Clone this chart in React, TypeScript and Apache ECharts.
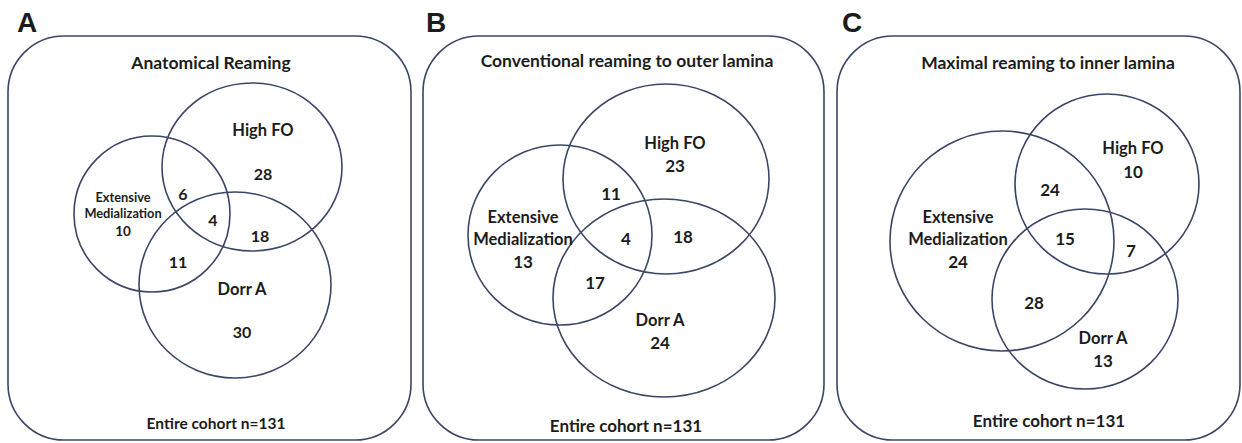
import React, { useEffect, useRef } from "react";
import * as echarts from "echarts";

// ---------- data ----------
const panelLetters = ["A", "B", "C"];
const panelTitles = [
  "Anatomical Reaming",
  "Conventional reaming to outer lamina",
  "Maximal reaming to inner lamina",
];
const setNames = ["Extensive\nMedialization", "High FO", "Dorr A"];
const cohortSize = [131, 131, 131];
// region counts per panel (A, B, C)
const extOnly = [10, 13, 24];
const highOnly = [28, 23, 10];
const dorrOnly = [30, 24, 13];
const extHigh = [6, 11, 24];
const extDorr = [11, 17, 28];
const highDorr = [18, 18, 7];
const allThree = [4, 4, 15];

// ---------- layout (pixel space of the figure) ----------
type P = [number, number];
interface PanelLayout {
  frame: [number, number, number, number, number];
  letter: P;
  title: P;
  ext: [number, number, number, number];
  high: [number, number, number, number];
  dorr: [number, number, number, number];
  extName: P; extNum: P;
  highName: P; highNum: P;
  dorrName: P; dorrNum: P;
  eh: P; ed: P; hd: P; all: P;
  cohort: P;
  nameSize: number; extSize: number; extNumSize: number; numSize: number; titleSize: number; cohortSize: number;
}
const layouts: PanelLayout[] = [
  {
    frame: [8, 36, 403, 404, 56],
    letter: [27, 22], title: [211, 62],
    ext: [152, 214, 78, 78], high: [252, 167, 90, 84], dorr: [235, 285, 96, 93],
    extName: [123, 205], extNum: [123, 231],
    highName: [263, 130], highNum: [263, 173],
    dorrName: [242, 289], dorrNum: [242, 331],
    eh: [183, 193], all: [213, 219], hd: [260, 235], ed: [178, 261],
    cohort: [216, 423],
    nameSize: 16.5, extSize: 12.8, extNumSize: 13.5, numSize: 16, titleSize: 17.5, cohortSize: 15.5,
  },
  {
    frame: [423, 36, 401, 404, 56],
    letter: [436, 22], title: [627, 60],
    ext: [560, 235, 92, 90], high: [666, 179, 103, 95], dorr: [664, 298, 111, 99],
    extName: [523, 228], extNum: [523, 261],
    highName: [675, 143], highNum: [675, 165],
    dorrName: [660, 320], dorrNum: [660, 342],
    eh: [611, 193], all: [626, 238], hd: [683, 236], ed: [595, 282],
    cohort: [626, 425],
    nameSize: 16.5, extSize: 16.5, extNumSize: 17, numSize: 17, titleSize: 17.5, cohortSize: 17,
  },
  {
    frame: [837, 36, 403, 404, 56],
    letter: [852, 22], title: [1048, 62],
    ext: [1002, 241, 112, 110], high: [1107, 184, 92, 90], dorr: [1085, 299, 93, 90],
    extName: [958, 228], extNum: [958, 261],
    highName: [1133, 148], highNum: [1133, 171],
    dorrName: [1103, 338], dorrNum: [1103, 360],
    eh: [1050, 189], all: [1065, 238], hd: [1131, 250], ed: [1034, 302],
    cohort: [1049, 420],
    nameSize: 16.5, extSize: 16.5, extNumSize: 17, numSize: 17, titleSize: 17.5, cohortSize: 17,
  },
];

const W = 1242;
const H = 443;
const STROKE = "#3b4566";
const INK = "#1c1c1c";
const FONT = "Lato, 'Open Sans', sans-serif";

interface TextItem { text: string; x: number; y: number; size: number; family: string; lh?: number; }

export default function App() {
  const ref = useRef<HTMLDivElement>(null);
  useEffect(() => {
    if (!ref.current) return;
    const chart = echarts.init(ref.current, undefined, { renderer: "svg" });

    const frames: number[][] = [];
    const circles: number[][] = [];
    const texts: TextItem[] = [];
    layouts.forEach((L, i) => {
      frames.push(L.frame);
      circles.push(L.ext, L.high, L.dorr);
      texts.push({ text: panelLetters[i], x: L.letter[0], y: L.letter[1], size: 28, family: "'Liberation Sans', Arial, sans-serif" });
      texts.push({ text: panelTitles[i], x: L.title[0], y: L.title[1], size: L.titleSize, family: FONT });
      texts.push({ text: setNames[0], x: L.extName[0], y: L.extName[1], size: L.extSize, family: FONT, lh: L.extSize * 1.3 });
      texts.push({ text: String(extOnly[i]), x: L.extNum[0], y: L.extNum[1], size: L.extNumSize, family: FONT });
      texts.push({ text: setNames[1], x: L.highName[0], y: L.highName[1], size: L.nameSize, family: FONT });
      texts.push({ text: String(highOnly[i]), x: L.highNum[0], y: L.highNum[1], size: L.numSize, family: FONT });
      texts.push({ text: setNames[2], x: L.dorrName[0], y: L.dorrName[1], size: L.nameSize, family: FONT });
      texts.push({ text: String(dorrOnly[i]), x: L.dorrNum[0], y: L.dorrNum[1], size: L.numSize, family: FONT });
      texts.push({ text: String(extHigh[i]), x: L.eh[0], y: L.eh[1], size: L.numSize, family: FONT });
      texts.push({ text: String(extDorr[i]), x: L.ed[0], y: L.ed[1], size: L.numSize, family: FONT });
      texts.push({ text: String(highDorr[i]), x: L.hd[0], y: L.hd[1], size: L.numSize, family: FONT });
      texts.push({ text: String(allThree[i]), x: L.all[0], y: L.all[1], size: L.numSize, family: FONT });
      texts.push({ text: "Entire cohort n=" + cohortSize[i], x: L.cohort[0], y: L.cohort[1], size: L.cohortSize, family: FONT });
    });

    chart.setOption({
      animation: false,
      backgroundColor: "#ffffff",
      grid: { left: 0, right: 0, top: 0, bottom: 0 },
      xAxis: { type: "value", min: 0, max: W, show: false },
      yAxis: { type: "value", min: 0, max: H, inverse: true, show: false },
      series: [
        {
          type: "custom",
          coordinateSystem: "cartesian2d",
          clip: false,
          data: frames,
          renderItem: (_p: any, api: any) => {
            const c = api.coord([api.value(0), api.value(1)]);
            const s = api.size([api.value(2), api.value(3)]);
            return {
              type: "rect",
              shape: { x: c[0], y: c[1], width: s[0], height: s[1], r: api.value(4) },
              style: { fill: "none", stroke: STROKE, lineWidth: 1.6 },
            };
          },
        },
        {
          type: "custom",
          coordinateSystem: "cartesian2d",
          clip: false,
          data: circles,
          renderItem: (_p: any, api: any) => {
            const c = api.coord([api.value(0), api.value(1)]);
            const s = api.size([api.value(2), api.value(3)]);
            return {
              type: "ellipse",
              shape: { cx: c[0], cy: c[1], rx: s[0], ry: s[1] },
              style: { fill: "none", stroke: STROKE, lineWidth: 1.6 },
            };
          },
        },
        {
          type: "custom",
          coordinateSystem: "cartesian2d",
          clip: false,
          data: texts.map((t, i) => [t.x, t.y, i]),
          renderItem: (_p: any, api: any) => {
            const t = texts[api.value(2)];
            const c = api.coord([api.value(0), api.value(1)]);
            return {
              type: "text",
              x: c[0],
              y: c[1],
              style: {
                text: t.text,
                fill: INK,
                fontSize: t.size,
                fontWeight: "bold",
                fontFamily: t.family,
                align: "center",
                verticalAlign: "middle",
                lineHeight: t.lh ?? t.size * 1.2,
              },
            };
          },
        },
      ],
    });
    return () => chart.dispose();
  }, []);
  return (
    <div
      ref={ref}
      style={{ position: "fixed", left: 0, top: 0, width: W, height: H, background: "#fff" }}
    />
  );
}
